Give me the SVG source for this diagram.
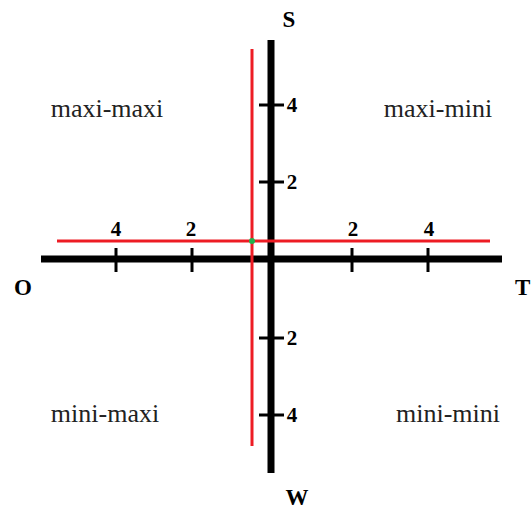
<svg xmlns="http://www.w3.org/2000/svg" width="531" height="509" viewBox="0 0 531 509">
<style>
.ax{stroke:#000;stroke-width:7;fill:none}
.tk{stroke:#000;stroke-width:3;fill:none}
.rd{stroke:#ed1c24;stroke-width:3;fill:none}
.num{font-family:"Liberation Serif",serif;font-weight:bold;font-size:21px;fill:#000}
.lab{font-family:"Liberation Serif",serif;font-weight:bold;font-size:23px;fill:#000}
.q{font-family:"Liberation Serif",serif;font-size:26px;fill:#222}
</style>
<rect width="531" height="509" fill="#fff"/>
<g id="connectors">
<line class="ax" x1="41" y1="259" x2="502" y2="259"/>
<line class="ax" x1="271" y1="40" x2="271" y2="473"/>
<g id="ticks">
<line class="tk" x1="116" y1="248" x2="116" y2="272"/>
<line class="tk" x1="192" y1="248" x2="192" y2="272"/>
<line class="tk" x1="352" y1="248" x2="352" y2="272"/>
<line class="tk" x1="428" y1="248" x2="428" y2="272"/>
<line class="tk" x1="259" y1="105" x2="284" y2="105"/>
<line class="tk" x1="259" y1="182" x2="284" y2="182"/>
<line class="tk" x1="259" y1="338" x2="284" y2="338"/>
<line class="tk" x1="259" y1="415" x2="284" y2="415"/>
</g>
<line class="rd" x1="57" y1="241" x2="490" y2="241"/>
<line class="rd" x1="252" y1="49" x2="252" y2="446"/>
</g>
<g id="origin-point"><circle cx="252" cy="241" r="3" fill="#22b14c"/></g>
<g id="tick-labels" class="num" text-anchor="middle">
<text x="116" y="236">4</text>
<text x="191" y="236">2</text>
<text x="353" y="236">2</text>
<text x="429" y="236">4</text>
<text x="292" y="112">4</text>
<text x="292" y="189">2</text>
<text x="292" y="345">2</text>
<text x="292" y="422">4</text>
</g>
<g id="axis-S"><text class="lab" x="289" y="27" text-anchor="middle">S</text></g>
<g id="axis-T"><text class="lab" x="515" y="295">T</text></g>
<g id="axis-O"><text class="lab" x="23" y="295" text-anchor="middle">O</text></g>
<g id="axis-W"><text class="lab" x="297" y="505" text-anchor="middle">W</text></g>
<g id="q-maxi-maxi"><text class="q" x="107" y="117" text-anchor="middle">maxi-maxi</text></g>
<g id="q-maxi-mini"><text class="q" x="438" y="117" text-anchor="middle">maxi-mini</text></g>
<g id="q-mini-maxi"><text class="q" x="105" y="422" text-anchor="middle">mini-maxi</text></g>
<g id="q-mini-mini"><text class="q" x="448" y="422" text-anchor="middle">mini-mini</text></g>
</svg>
